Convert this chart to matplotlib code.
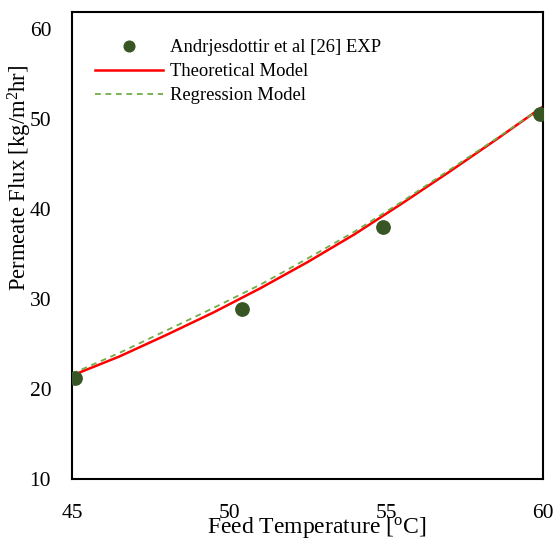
import matplotlib
matplotlib.use("Agg")
import matplotlib.pyplot as plt

plt.rcParams['font.family'] = ['Liberation Serif', 'DejaVu Serif']
plt.rcParams['mathtext.fontset'] = 'custom'
plt.rcParams['mathtext.rm'] = 'Liberation Serif'
plt.rcParams['mathtext.it'] = 'Liberation Serif:italic'

# experimental points (Andrjesdottir et al)
exp_temp = [45.1, 50.4, 54.9, 59.9]
exp_flux = [21.2, 28.9, 38.0, 50.6]

# model curves
model_temp = [45, 46.5, 48, 49.5, 51, 52.5, 54, 55.5, 57, 58.5, 60]
theory_flux = [21.5, 23.6, 26.0, 28.5, 31.2, 34.1, 37.2, 40.6, 44.1, 47.7, 51.4]
regress_flux = [21.7, 24.0, 26.5, 29.0, 31.6, 34.5, 37.5, 40.8, 44.3, 47.8, 51.4]

xticks = [45, 50, 55, 60]
yticks = [10, 20, 30, 40, 50, 60]

W, H = 555, 539
fig = plt.figure(figsize=(W / 100, H / 100), dpi=100)
ax = fig.add_axes([72 / W, 1 - 479 / H, 471 / W, 467 / H])

ax.plot(exp_temp, exp_flux, 'o', color='#375623', ms=9.6, zorder=3,
        label='Andrjesdottir et al [26] EXP')
ax.plot(model_temp, theory_flux, '-', color='#FF0000', lw=1.8, zorder=2,
        label='Theoretical Model')
ax.plot(model_temp, regress_flux, '--', color='#70AD47', lw=1.3, zorder=2,
        dashes=(3.2, 2.6), label='Regression Model')

ax.set_xlim(45, 60)
ax.set_ylim(10, 61.9)
ax.set_xticks(xticks)
ax.set_yticks(yticks)
ax.tick_params(axis='both', length=0, labelsize=15.5)
ax.tick_params(axis='x', pad=18)
ax.tick_params(axis='y', pad=15)
for s in ax.spines.values():
    s.set_linewidth(1.5)
    s.set_color('black')

fig.text(317 / W, 1 - 528 / H, 'Feed Temperature [$^\\mathrm{o}$C]',
         ha='center', va='center', fontsize=17)
fig.text(20 / W, 1 - 178 / H, 'Permeate Flux [kg/m$^\\mathrm{2}$hr]',
         ha='center', va='center', rotation=90, fontsize=16.3)

ax.legend(loc='upper left', bbox_to_anchor=(0.048, 0.942), frameon=False,
          fontsize=13.4, handlelength=3.65, handletextpad=0.41,
          labelspacing=0.38, borderpad=0, borderaxespad=0, markerscale=0.8)

fig.savefig('out.png', dpi=100)
